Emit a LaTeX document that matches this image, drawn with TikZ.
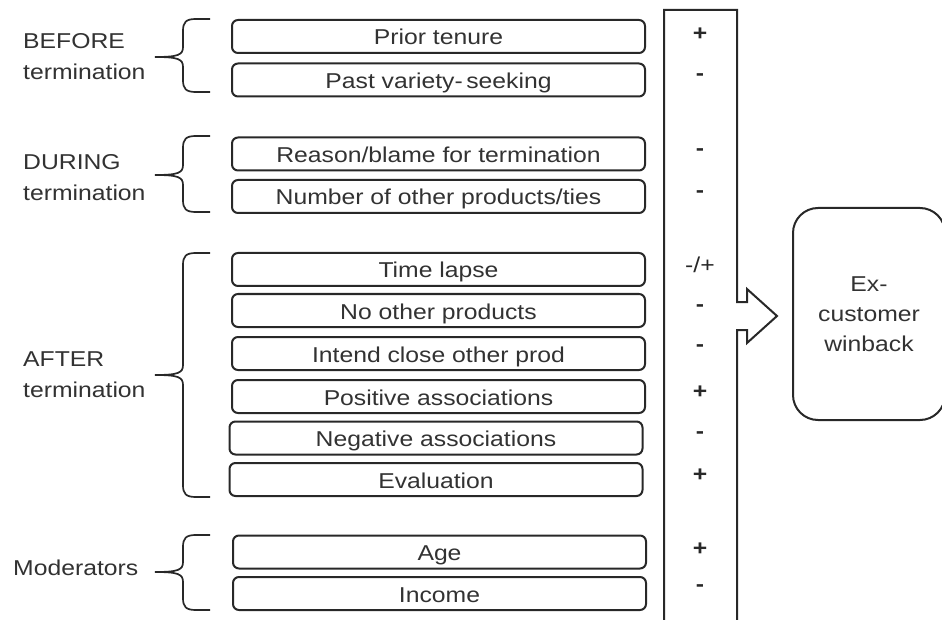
\documentclass[tikz,border=0pt]{standalone}
\usepackage{fontspec}
\setmainfont{Liberation Sans}[FakeStretch=1.15]
\usepackage{tikz}
\usepackage{xcolor}
\definecolor{winbackInk}{RGB}{40, 40, 40}
\definecolor{winbackText}{RGB}{50, 50, 50}

% group brace: #1 top, #2 tip, #3 bottom (all y in px)
\newcommand{\grpbrace}[3]{%
  \draw[bracket] (210,#1) -- (196,#1) .. controls (186,#1) and (183,#1+3) .. (183,#1+12)
    -- (183,#2-10) .. controls (183,#2-2) and (178,#2) .. (155,#2)
    .. controls (178,#2) and (183,#2+2) .. (183,#2+10)
    -- (183,#3-12) .. controls (183,#3-3) and (186,#3) .. (196,#3) -- (210,#3);}

\begin{document}
\begin{tikzpicture}[x=1pt, y=-1pt]
                    \tikzstyle{box} = [draw=winbackInk, line width=2pt, rounded corners=6pt, minimum width=413pt, minimum height=33pt, inner sep=0pt, text height=17pt, text depth=0pt, text=winbackText, font=\fontsize{21.5}{26}\selectfont]
                    \tikzstyle{sign} = [inner sep=0pt, text=winbackInk, font=\fontsize{21.5}{26}\selectfont\bfseries]
                    \tikzstyle{group} = [anchor=west, inner sep=0pt, align=left, text=winbackText, font=\fontsize{21.5}{31}\selectfont]
                    \tikzstyle{bracket} = [draw=winbackInk, line width=1.7pt]
                    \useasboundingbox (0,0) rectangle (942,620);
                    % factor boxes
                    \node[box] (tenure) at (438.5,36.5) {Prior tenure};
                    \node[box] (variety) at (438.5,80) {Past variety-\,seeking};
                    \node[box] (reason) at (438.5,154) {Reason/blame for termination};
                    \node[box] (numprod) at (438.5,196.5) {Number of other products/ties};
                    \node[box] (lapse) at (438.5,269.5) {Time lapse};
                    \node[box] (noprod) at (438.5,310.5) {No other products};
                    \node[box] (intend) at (438.5,353.5) {Intend close other prod};
                    \node[box] (posassoc) at (438.5,396.5) {Positive associations};
                    \node[box] (negassoc) at (436,438) {Negative associations};
                    \node[box] (eval) at (436,479.5) {Evaluation};
                    \node[box] (age) at (439.5,552) {Age};
                    \node[box] (income) at (439.5,593.5) {Income};
                    % group labels and braces
                    \node[group] (before) at (23,56.5) {BEFORE\\termination};
                    \node[group] (during) at (23,177.5) {DURING\\termination};
                    \node[group] (after) at (23,374.5) {AFTER\\termination};
                    \node[group] (moderators) at (13,567.5) {Moderators};
                    \grpbrace{19}{57}{92}
                    \grpbrace{136}{175}{212}
                    \grpbrace{253}{375}{497}
                    \grpbrace{535}{572}{610}
                    % effect column with block arrow
                    \draw[bracket, line width=2pt] (664,640) -- (664,10) -- (737,10) -- (737,302) -- (747,302) -- (747,289)
                        -- (777,316) -- (747,343) -- (747,330) -- (737,330) -- (737,640);
                    \node[sign] (tenuresign) at (700,34) {+};
                    \node[sign] (varietysign) at (700,77) {-};
                    \node[sign] (reasonsign) at (700,152) {-};
                    \node[sign] (numprodsign) at (700,194) {-};
                    \node[sign, font=\fontsize{21.5}{26}\selectfont] (lapsesign) at (700,265) {-/+};
                    \node[sign] (noprodsign) at (700,308) {-};
                    \node[sign] (intendsign) at (700,348) {-};
                    \node[sign] (posassocsign) at (700,392) {+};
                    \node[sign] (negassocsign) at (700,435) {-};
                    \node[sign] (evalsign) at (700,475) {+};
                    \node[sign] (agesign) at (700,549) {+};
                    \node[sign] (incomesign) at (700,588) {-};
                    % outcome
                    \node[draw=winbackInk, line width=2pt, rounded corners=25pt, minimum width=152pt, minimum height=212pt, align=center, text=winbackText, font=\fontsize{21.5}{30}\selectfont] (winback) at (869,314) {Ex-\\customer\\winback};
                \end{tikzpicture}
\end{document}
